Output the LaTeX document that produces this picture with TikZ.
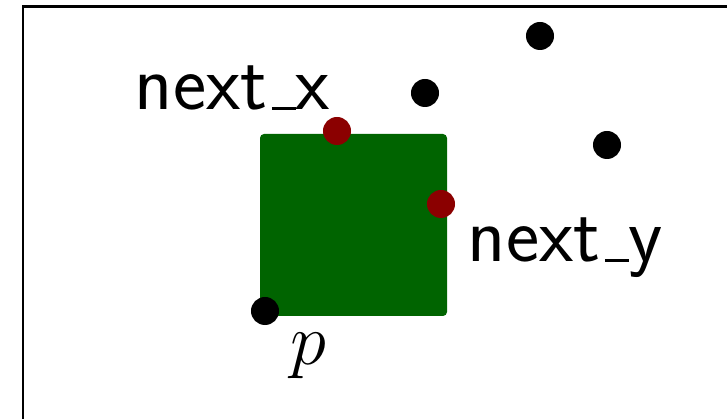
\documentclass[tikz,border=0pt]{standalone}
\usepackage{xcolor}
\usetikzlibrary{positioning}
\definecolor{cCell}{HTML}{006400}
\definecolor{cNext}{HTML}{8B0000}
\newcommand{\lowbar}{\leavevmode\kern.06em\vbox{\hrule width.3em height.85pt}}

\begin{document}
\begin{tikzpicture}[x=0.01cm, y=-0.01cm,
  pt/.style={circle, fill=black, inner sep=0pt, minimum size=0.28cm},
  nextpt/.style={pt, fill=cNext},
  lbl/.style={inner sep=0pt, font=\fontsize{22.5}{27}\selectfont\sffamily}]
  \useasboundingbox (0,0) rectangle (727,419);

  % frame (runs off the page on the right and bottom)
  \draw[line width=0.85pt] (23,7) rectangle (780,460);

  % cell
  \fill[cCell, rounded corners=0.04cm] (260,134) rectangle (447,316);

  % points
  \node[pt] (p)  at (265,311) {};
  \node[pt] (q1) at (425,93) {};
  \node[pt] (q2) at (540,36) {};
  \node[pt] (q3) at (607,145) {};
  \node[nextpt] (nx) at (337,131) {};
  \node[nextpt] (ny) at (441,204) {};

  % labels
  \node[lbl, anchor=base west] (lnx) at (134,110) {next\lowbar x};
  \node[lbl, anchor=base west] (lny) at (467,262) {next\lowbar y};
  \node[lbl, anchor=base west] (lp)  at (290,365) {$p$};
\end{tikzpicture}
\end{document}
